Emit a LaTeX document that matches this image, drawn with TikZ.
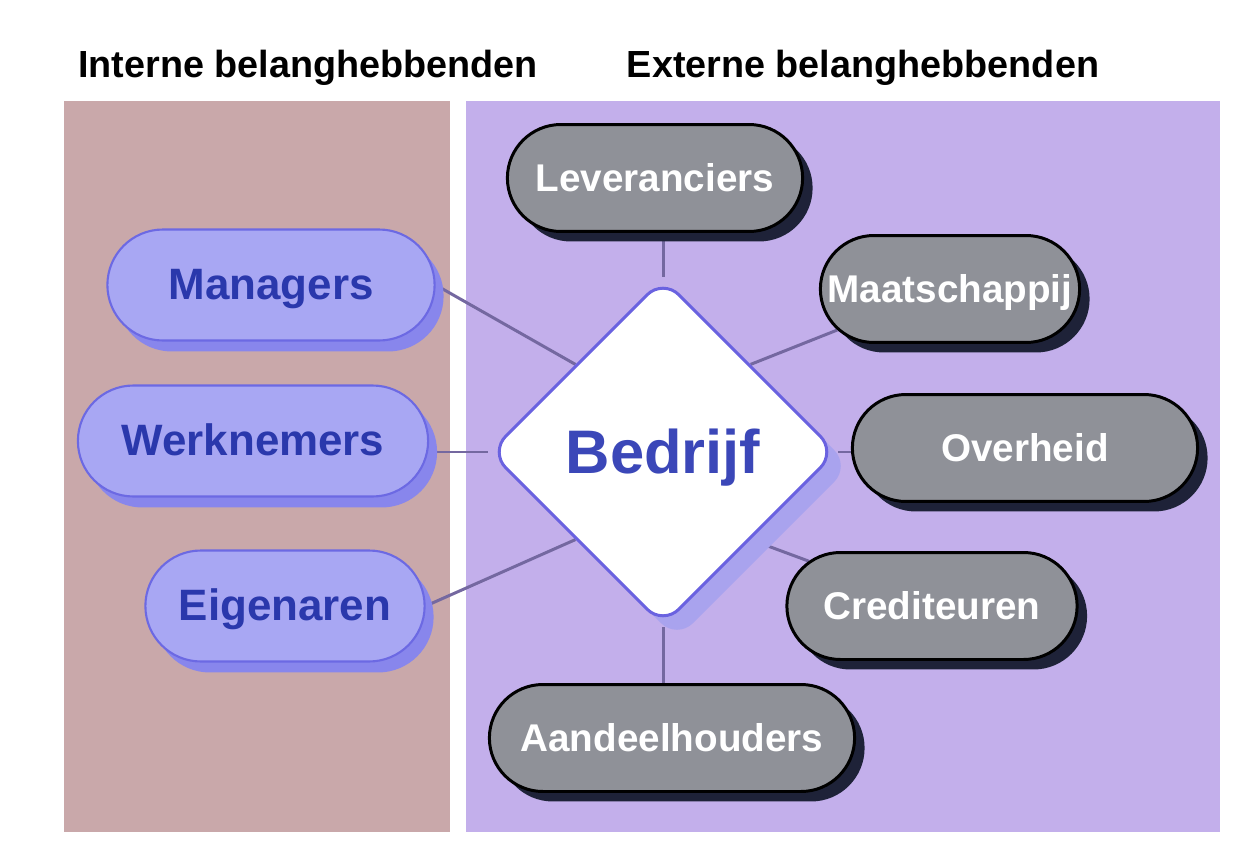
\documentclass[tikz,border=0pt]{standalone}
\usepackage{fontspec}
\setmainfont{Liberation Sans}
\usetikzlibrary{shapes.geometric,shapes.misc,shadows}

\definecolor{internpanel}{HTML}{C9A8AA}
\definecolor{externpanel}{HTML}{C3AFEB}
\definecolor{internfill}{HTML}{A8A7F3}
\definecolor{internline}{HTML}{6C69E3}
\definecolor{interntext}{HTML}{2A38AC}
\definecolor{internshadow}{HTML}{8886EC}
\definecolor{externfill}{HTML}{8F9198}
\definecolor{externshadow}{HTML}{1E2238}
\definecolor{linkcolor}{HTML}{7468A0}
\definecolor{coreline}{HTML}{6A62E0}
\definecolor{coretext}{HTML}{3B47B8}
\definecolor{coreshadow}{HTML}{A9A3EE}

\pgfdeclarelayer{panels}
\pgfdeclarelayer{links}
\pgfsetlayers{panels,links,main}

\begin{document}
\begin{tikzpicture}[
    x=0.02cm, y=-0.02cm,
    title/.style={font=\bfseries\fontsize{21.5}{26}\selectfont, text=black},
    intern/.style={rounded rectangle, draw=internline, line width=1.2pt, fill=internfill,
        text=interntext, font=\bfseries\fontsize{25}{30}\selectfont, minimum height=2.22cm,
        text height=17pt, text depth=0pt,
        drop shadow={shadow xshift=0.18cm, shadow yshift=-0.22cm, fill=internshadow, opacity=1}},
    extern/.style={rounded rectangle, draw=black, line width=1.7pt, fill=externfill,
        text=white, font=\bfseries\fontsize{22}{26}\selectfont, minimum height=2.14cm,
        text height=15.5pt, text depth=0pt,
        drop shadow={shadow xshift=0.2cm, shadow yshift=-0.2cm, fill=externshadow, opacity=1}},
    core/.style={diamond, aspect=1, draw=coreline, line width=1.7pt, fill=white, inner sep=0pt,
        minimum width=6.95cm, minimum height=6.95cm, rounded corners=0.45cm,
        text=coretext, font=\bfseries\fontsize{35}{40}\selectfont,
        text height=25pt, text depth=0pt,
        drop shadow={shadow xshift=0.28cm, shadow yshift=-0.28cm, fill=coreshadow, opacity=1}},
    link/.style={draw=linkcolor, line width=1.7pt},
]
\useasboundingbox (0,0) rectangle (1248,848);

% panels and headings
\begin{pgfonlayer}{panels}
\fill[internpanel] (64,101) rectangle (450,832);
\fill[externpanel] (466,101) rectangle (1220,832);
\end{pgfonlayer}
\node[title] (interntitle) at (308,68) {Interne belanghebbenden};
\node[title] (externtitle) at (863,68) {Externe belanghebbenden};

% centre
\node[core] (bedrijf) at (663,452) {Bedrijf};

% internal stakeholders
\node[intern, minimum width=6.78cm] (managers) at (271,285) {Managers};
\node[intern, minimum width=7.24cm] (werknemers) at (253,441) {Werknemers};
\node[intern, minimum width=5.82cm] (eigenaren) at (285,606) {Eigenaren};

% external stakeholders
\node[extern, minimum width=6.14cm] (leveranciers) at (655,178) {Leveranciers};
\node[extern, minimum width=5.42cm] (maatschappij) at (950,289) {Maatschappij};
\node[extern, minimum width=7.14cm] (overheid) at (1025,448) {Overheid};
\node[extern, minimum width=6.04cm] (crediteuren) at (932,606) {Crediteuren};
\node[extern, minimum width=7.54cm] (aandeelhouders) at (672,738) {Aandeelhouders};

% connections
\begin{pgfonlayer}{links}
\draw[link] (bedrijf.north west) -- (managers.east);
\draw[link] (bedrijf.west) -- (bedrijf.west -| werknemers.east);
\draw[link] (bedrijf.south west) -- (eigenaren.east);
\draw[link] (bedrijf.north) -- (bedrijf.north |- leveranciers.south);
\draw[link] (bedrijf.north east) -- (maatschappij.200);
\draw[link] (bedrijf.east) -- (bedrijf.east -| overheid.west);
\draw[link] (bedrijf.south east) -- (crediteuren.160);
\draw[link] (bedrijf.south) -- (bedrijf.south |- aandeelhouders.north);
\end{pgfonlayer}
\end{tikzpicture}
\end{document}
